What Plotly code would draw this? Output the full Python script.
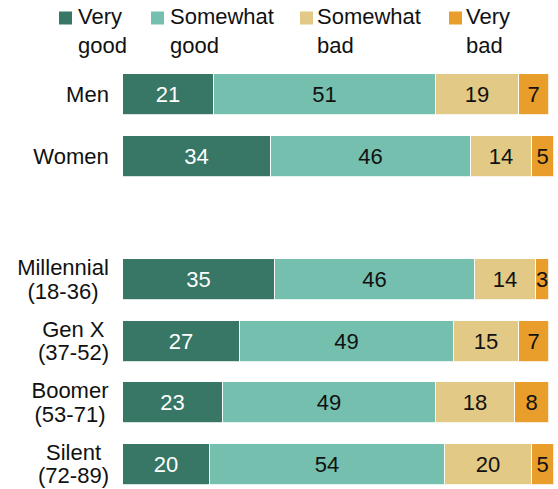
import math
import plotly.graph_objects as go

# Survey groups (blank slot separates gender from generation)
groups = ["Men", "Women", "", "Millennial<br>(18-36)", "Gen X<br>(37-52)",
          "Boomer<br>(53-71)", "Silent<br>(72-89)"]
positions = [0, 1, 2, 3, 4, 5, 6]

series_names = ["Very good", "Somewhat good", "Somewhat bad", "Very bad"]
legend_labels = ["Very<br>good", "Somewhat<br>good", "Somewhat<br>bad", "Very<br>bad"]
very_good = [21, 34, None, 35, 27, 23, 20]
somewhat_good = [51, 46, None, 46, 49, 49, 54]
somewhat_bad = [19, 14, None, 14, 15, 18, 20]
very_bad = [7, 5, None, 3, 7, 8, 5]

colors = ["#387665", "#75bfae", "#e2c985", "#e99d2b"]
text_colors = ["white", "#111111", "#111111", "#111111"]

FONT = "Liberation Sans"
FS = 22
W, H = 558, 489
ML, MT = 123, 64
PW, PH = W - ML, H - MT

# Approximate advance widths (em) of Liberation Sans, used to size label boxes
ADV = {"M": .833, "G": .778, "X": .667, "B": .667, "S": .667, "W": .944,
       "i": .222, "l": .222, "e": .556, "n": .556, "a": .556, "o": .556,
       "m": .833, "r": .333, "t": .278, "(": .333, ")": .333, "-": .333,
       " ": .278}


def text_width(s):
    return sum(ADV.get(c, .556) for c in s) * FS


def px_x(x):
    return (x - ML) / PW


def px_y(y):
    return 1 - (y - MT) / PH


fig = go.Figure()
for name, vals, col, tcol in zip(series_names,
                                 [very_good, somewhat_good, somewhat_bad, very_bad],
                                 colors, text_colors):
    fig.add_trace(go.Bar(
        name=name, y=positions, x=vals, orientation="h",
        marker=dict(color=col, line=dict(color="rgba(255,255,255,0.8)", width=1)),
        text=[str(v) if v is not None else "" for v in vals],
        textposition="inside", insidetextanchor="middle", textangle=0,
        textfont=dict(family=FONT, size=FS, color=tcol),
        constraintext="none", width=0.66, showlegend=False,
        hoverinfo="skip",
    ))

annotations = []
# Category labels: lines centred on each other, block right-aligned
for p, g in zip(positions, groups):
    if not g:
        continue
    lines = g.split("<br>")
    box_w = math.ceil(max(text_width(s) for s in lines)) + 2
    shifts = [0] if len(lines) == 1 else [12, -11.5]
    for line, sh in zip(lines, shifts):
        annotations.append(dict(
            x=px_x(111), xref="paper", y=p, yref="y", text=line, showarrow=False,
            xanchor="right", yanchor="middle", align="center", yshift=sh,
            width=box_w, borderpad=0,
            font=dict(family=FONT, size=FS, color="#111111"),
        ))

# Legend: swatches and two-line labels
swatch_x = [59, 151, 300, 449]
text_x = [76, 168, 315, 464]
shapes = []
for sx, tx, lab, col in zip(swatch_x, text_x, legend_labels, colors):
    shapes.append(dict(type="rect", xref="paper", yref="paper",
                       x0=px_x(sx), x1=px_x(sx + 13), y0=px_y(24.5), y1=px_y(11.5),
                       fillcolor=col, line=dict(width=0)))
    annotations.append(dict(
        x=px_x(tx), xref="paper", y=px_y(2), yref="paper", text=lab,
        showarrow=False, xanchor="left", yanchor="top", align="left",
        font=dict(family=FONT, size=FS, color="#111111"),
    ))

fig.update_layout(
    barmode="stack",
    width=W, height=H,
    margin=dict(l=ML, r=0, t=MT, b=0, pad=0),
    paper_bgcolor="white", plot_bgcolor="white",
    xaxis=dict(range=[0, 100], visible=False, fixedrange=True),
    yaxis=dict(range=[6.4, -0.5], visible=False, fixedrange=True),
    annotations=annotations, shapes=shapes,
    uniformtext=dict(minsize=FS, mode="show"),
    bargap=0,
)

fig.write_html("out.html")
